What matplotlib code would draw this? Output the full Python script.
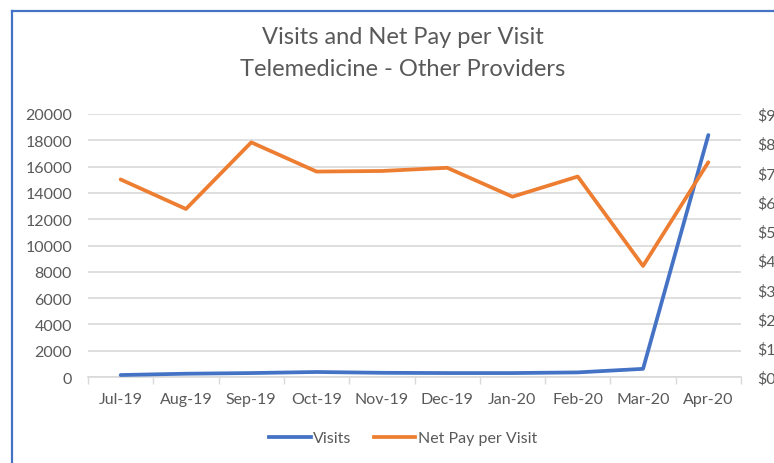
import matplotlib
matplotlib.use("Agg")
import matplotlib.pyplot as plt
from matplotlib.lines import Line2D
import numpy as np

months = ["Jul-19", "Aug-19", "Sep-19", "Oct-19", "Nov-19", "Dec-19",
          "Jan-20", "Feb-20", "Mar-20", "Apr-20"]
visits = [150, 250, 300, 380, 320, 300, 300, 350, 620, 18400]
net_pay = [67.6, 57.5, 80.3, 70.3, 70.5, 71.6, 61.7, 68.6, 38.0, 73.5]
left_ticks = list(range(0, 20001, 2000))
right_ticks = list(range(0, 91, 10))

BLUE = "#4472C4"
ORANGE = "#ED7D31"
GREY = "#595959"
GRID = "#D9D9D9"

plt.rcParams['font.family'] = ['Lato', 'DejaVu Sans']

W, H = 774, 464
fig = plt.figure(figsize=(W / 100, H / 100), dpi=100)
fig.patch.set_facecolor("white")

ax = fig.add_axes([88 / W, 1 - 378 / H, (741 - 88) / W, (378 - 115) / H])
ax2 = ax.twinx()

x = np.arange(len(months))
ax.plot(x, visits, color=BLUE, lw=2.7, solid_capstyle='round', zorder=3, label="Visits")
ax2.plot(x, net_pay, color=ORANGE, lw=2.7, solid_capstyle='round', zorder=3, label="Net Pay per Visit")

ax.set_xlim(-0.5, len(months) - 0.5)
ax.set_ylim(0, 20000)
ax2.set_ylim(0, 90)
ax.set_yticks(left_ticks)
ax.set_yticklabels([str(v) for v in left_ticks])
ax2.set_yticks(right_ticks)
ax2.set_yticklabels(["$" + str(v) for v in right_ticks])

ax.set_xticks(x)
ax.set_xticklabels(months)
ax.set_xticks(np.arange(-0.5, len(months), 1.0), minor=True)
ax.tick_params(axis='x', which='major', length=0, pad=11, labelsize=11.5, labelcolor=GREY)
ax.tick_params(axis='x', which='minor', length=5, width=1, color=GRID)
ax.tick_params(axis='y', length=0, pad=11.5, labelsize=11.5, labelcolor=GREY)
ax2.tick_params(axis='y', length=0, pad=11.5, labelsize=11.5, labelcolor=GREY)

ax.yaxis.grid(True, color=GRID, lw=1.2)
ax.set_axisbelow(True)
for a in (ax, ax2):
    for s in a.spines.values():
        s.set_visible(False)
ax.spines['bottom'].set_visible(True)
ax.spines['bottom'].set_color(GRID)
ax.spines['bottom'].set_linewidth(1.2)

fig.text(403 / W, 1 - 37 / H, "Visits and Net Pay per Visit", ha='center', va='center',
         fontsize=17, color=GREY)
fig.text(403 / W, 1 - 70 / H, "Telemedicine - Other Providers", ha='center', va='center',
         fontsize=17, color=GREY)

handles = [Line2D([], [], color=BLUE, lw=2.7), Line2D([], [], color=ORANGE, lw=2.7)]
fig.legend(handles, ["Visits", "Net Pay per Visit"], loc='center',
           bbox_to_anchor=(403 / W, 1 - 439 / H), ncol=2, frameon=False,
           fontsize=11.5, labelcolor=GREY, handlelength=2.6, handletextpad=0.15,
           columnspacing=1.4)

# blue chart border (left and top)
fig.add_artist(Line2D([12.5 / W, 12.5 / W], [0, 1 - 11.5 / H], color=BLUE, lw=1.6,
                      transform=fig.transFigure))
fig.add_artist(Line2D([12.5 / W, 1], [1 - 11.5 / H, 1 - 11.5 / H], color=BLUE, lw=1.6,
                      transform=fig.transFigure))

fig.savefig("out.png", dpi=100)
